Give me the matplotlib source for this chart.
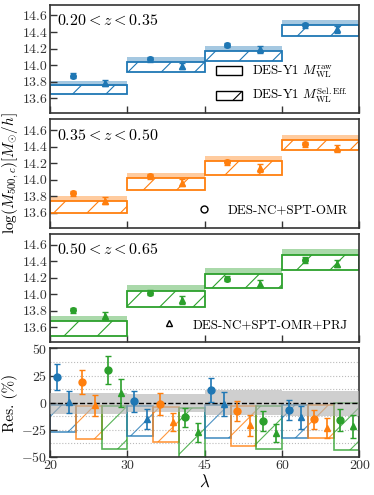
import numpy as np
import matplotlib
matplotlib.use("Agg")
import matplotlib.pyplot as plt
from matplotlib.patches import Rectangle, Patch
from matplotlib.lines import Line2D

plt.rcParams['font.family'] = 'serif'
plt.rcParams['font.serif'] = ['cmr10']
plt.rcParams['mathtext.fontset'] = 'cm'
plt.rcParams['axes.formatter.use_mathtext'] = True
plt.rcParams['hatch.linewidth'] = 0.8

# ---------------- data ----------------
lambda_edges = ["20", "30", "45", "60", "200"]
z_labels = [r"$0.20 < z < 0.35$", r"$0.35 < z < 0.50$", r"$0.50 < z < 0.65$"]
colors = ["#1f77b4", "#ff7f0e", "#2ca02c"]

# raw WL band (low, high) per z-bin, per lambda-bin
raw_lo = [[13.752, 14.040, 14.176, 14.484],
          [13.740, 14.020, 14.228, 14.480],
          [13.678, 14.037, 14.250, 14.470]]
raw_hi = [[13.812, 14.096, 14.236, 14.540],
          [13.800, 14.080, 14.290, 14.540],
          [13.741, 14.117, 14.320, 14.550]]
# selection-effect corrected WL box (low, high)
sel_lo = [[13.653, 13.924, 14.048, 14.355],
          [13.605, 13.880, 14.060, 14.360],
          [13.500, 13.850, 14.077, 14.290]]
sel_hi = [[13.764, 14.044, 14.176, 14.484],
          [13.740, 14.020, 14.228, 14.480],
          [13.678, 14.037, 14.250, 14.470]]
# DES-NC+SPT-OMR (circles) and +PRJ (triangles)
omr = [[13.872, 14.072, 14.244, 14.480],
       [13.840, 14.040, 14.210, 14.430],
       [13.810, 14.020, 14.190, 14.417]]
omr_err = [[0.030, 0.030, 0.030, 0.030],
           [0.030, 0.030, 0.030, 0.030],
           [0.030, 0.030, 0.030, 0.035]]
prj = [[13.785, 13.990, 14.192, 14.432],
       [13.750, 13.965, 14.140, 14.380],
       [13.740, 13.930, 14.130, 14.370]]
prj_err = [[0.040, 0.040, 0.045, 0.045],
           [0.040, 0.040, 0.045, 0.045],
           [0.045, 0.045, 0.045, 0.045]]

# residuals (%)
res_box_lo = [[-27.4, -31.0, -32.3, -32.9],
              [-33.5, -36.3, -40.0, -32.3],
              [-43.0, -49.7, -42.7, -43.6]]
res_box_hi = [[-2.0, -3.0, -2.0, -2.2],
              [-3.4, -4.0, -3.4, -2.2],
              [-3.4, -5.0, -3.0, 0.0]]
res_omr = [[23.9, 1.2, 11.6, -6.8],
           [18.7, -1.0, -7.7, -15.4],
           [30.0, -13.5, -16.9, -16.0]]
res_omr_err = [[12.0, 10.0, 11.0, 9.5],
               [11.0, 10.0, 9.5, 9.0],
               [13.0, 9.0, 9.5, 10.5]]
res_prj = [[0.8, -15.0, -1.3, -13.5],
           [-2.5, -17.8, -20.9, -23.4],
           [9.1, -27.4, -27.7, -21.8]]
res_prj_err = [[10.0, 9.0, 11.0, 10.5],
               [10.0, 8.0, 9.5, 9.5],
               [13.0, 9.0, 8.5, 10.5]]
res_band_lo = [-10.0, -9.0, -11.5, -12.0]
res_band_hi = [9.0, 8.0, 11.5, 11.0]

# ---------------- figure ----------------
fig = plt.figure(figsize=(3.74, 4.95), dpi=100)
gs = fig.add_gridspec(4, 1, left=0.134, right=0.961, top=0.9905, bottom=0.0768,
                      hspace=0.055)
axes = [fig.add_subplot(gs[i]) for i in range(4)]

FS = 10
LFS = 9.3
spine_col = "#333333"
nb = len(lambda_edges) - 1

for k in range(3):
    ax = axes[k]
    c = colors[k]
    for i in range(nb):
        ax.fill_between([i, i + 1], raw_lo[k][i], raw_hi[k][i], color=c,
                        alpha=0.4, lw=0, zorder=1)
        ax.add_patch(Rectangle((i, sel_lo[k][i]), 1, sel_hi[k][i] - sel_lo[k][i],
                               facecolor='none', edgecolor=c, hatch='/', lw=1.3,
                               zorder=2))
    x = np.arange(nb)
    ax.errorbar(x + 0.29, omr[k], yerr=omr_err[k], fmt='o', color=c, ms=4,
                capsize=2, elinewidth=1.2, capthick=1.0, zorder=4)
    ax.errorbar(x + 0.71, prj[k], yerr=prj_err[k], fmt='^', color=c, ms=4,
                capsize=2, elinewidth=1.2, capthick=1.0, zorder=4)
    ax.set_ylim(13.42, 14.73)
    ax.set_yticks([13.6, 13.8, 14.0, 14.2, 14.4, 14.6])
    ax.set_yticklabels(["13.6", "13.8", "14.0", "14.2", "14.4", "14.6"])
    ax.text(0.022, 0.855, z_labels[k], transform=ax.transAxes, fontsize=11.5,
            ha='left', va='center')

# legends
axes[0].legend(handles=[Patch(facecolor='none', edgecolor='k', lw=1.0),
                        Patch(facecolor='none', edgecolor='k', hatch='/', lw=1.0)],
               labels=[r"DES-Y1 $M_{\rm WL}^{\rm raw}$",
                       r"DES-Y1 $M_{\rm WL}^{\rm Sel.Eff.}$"],
               loc='lower right', frameon=False, fontsize=LFS,
               bbox_to_anchor=(1.0, -0.03), labelspacing=0.45)
axes[1].legend(handles=[Line2D([], [], marker='o', ls='none', mfc='none', mec='k', ms=5)],
               labels=["DES-NC+SPT-OMR"], loc='lower right', frameon=False,
               fontsize=LFS, bbox_to_anchor=(1.0, 0.0))
axes[2].legend(handles=[Line2D([], [], marker='^', ls='none', mfc='none', mec='k', ms=5)],
               labels=["DES-NC+SPT-OMR+PRJ"], loc='lower right', frameon=False,
               fontsize=LFS, bbox_to_anchor=(1.0, 0.0))

# residual panel
ax = axes[3]
for yv in [-37.5, -25, -12.5, 12.5, 25, 37.5]:
    ax.axhline(yv, color='#bbbbbb', ls=':', lw=0.8, zorder=0)
for i in range(nb):
    for k in range(3):
        c = colors[k]
        x0 = i + k / 3.0
        ax.add_patch(Rectangle((x0, res_box_lo[k][i]), 1 / 3.0,
                               res_box_hi[k][i] - res_box_lo[k][i],
                               facecolor='none', edgecolor=c, hatch='/', lw=1.2,
                               alpha=0.8, zorder=2))
        ax.errorbar(x0 + 1 / 12.0, res_omr[k][i], yerr=res_omr_err[k][i], fmt='o',
                    color=c, ms=5, capsize=2, elinewidth=1.2, capthick=1.0, zorder=4)
        ax.errorbar(x0 + 3 / 12.0, res_prj[k][i], yerr=res_prj_err[k][i], fmt='^',
                    color=c, ms=5, capsize=2, elinewidth=1.2, capthick=1.0, zorder=4)
    ax.fill_between([i, i + 1], res_band_lo[i], res_band_hi[i], color='#b0b0b0',
                    alpha=0.6, lw=0, zorder=3)
ax.axhline(0, color='k', ls='--', lw=1.0, zorder=3.5)
ax.set_ylim(-50, 50)
ax.set_yticks([-50, -25, 0, 25, 50])
ax.set_ylabel("Res. (%)", fontsize=11, labelpad=2)
ax.set_xlabel(r"$\lambda$", fontsize=12, labelpad=1)

for j, ax in enumerate(axes):
    ax.set_xlim(0, nb)
    ax.set_xticks(np.arange(nb + 1))
    if j == 3:
        ax.set_xticklabels(lambda_edges)
    else:
        ax.set_xticklabels([])
    ax.tick_params(direction='in', length=5, width=1.0, labelsize=FS,
                   colors=spine_col, labelcolor='#333333', pad=2)
    for s in ax.spines.values():
        s.set_color(spine_col)
        s.set_linewidth(1.2)

fig.text(0.03, (0.9905 + 0.3085) / 2, r"$\log(M_{500,c})[M_{\odot}/h]$", rotation=90,
         ha='center', va='center', fontsize=11)

fig.savefig("out.png", dpi=100)
